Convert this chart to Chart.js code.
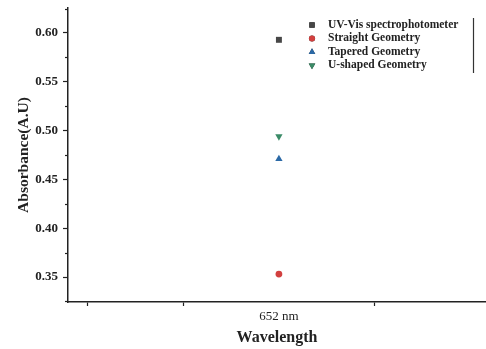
<!DOCTYPE html>
<html>
<head>
<meta charset="utf-8">
<script src="https://cdn.jsdelivr.net/npm/chart.js@4.4.0/dist/chart.umd.min.js"></script>
<style>
  html, body { margin: 0; padding: 0; background: #fff; }
  canvas { display: block; }
</style>
</head>
<body>
<canvas id="chartAbs" width="486" height="349"></canvas>
<script>
const wavelength = 652;
const seriesNames = ['UV-Vis spectrophotometer', 'Straight Geometry', 'Tapered Geometry', 'U-shaped Geometry'];
const absorbance = [0.593, 0.353, 0.471, 0.494];
const seriesColors = ['#474747', '#d2403f', '#2b69a6', '#3a8b67'];
const seriesStyles = ['rect', 'circle', 'triangle', 'triangle'];
const seriesRotation = [0, 0, 0, 180];
const yTicks = [0.35, 0.40, 0.45, 0.50, 0.55, 0.60];
const yMinorTicks = [0.325, 0.375, 0.425, 0.475, 0.525, 0.575, 0.625];
const xTicks = [650, 651, 652, 653];

const serif = "'Liberation Serif', 'DejaVu Serif', serif";

// minor ticks on the y axis and the legend in the upper right
const extras = {
  id: 'extras',
  afterDraw(chart) {
    const ctx = chart.ctx;
    const y = chart.scales.y;
    ctx.save();
    ctx.strokeStyle = '#222';
    ctx.lineWidth = 1.2;
    yMinorTicks.forEach(v => {
      const py = Math.round(y.getPixelForValue(v)) + 0.5;
      ctx.beginPath();
      ctx.moveTo(y.right - 3, py);
      ctx.lineTo(y.right, py);
      ctx.stroke();
    });

    const lx = 312, tx = 328, top = 25, step = 13.5;
    ctx.font = 'bold 11.5px ' + serif;
    ctx.textBaseline = 'middle';
    chart.data.datasets.forEach((ds, i) => {
      const py = top + i * step;
      Chart.helpers.drawPoint(ctx, {
        pointStyle: ds.pointStyle,
        radius: ds.pointRadius * 0.9,
        rotation: ds.rotation,
        borderWidth: 0
      }, lx, py);
      ctx.fillStyle = ds.backgroundColor;
      ctx.fill();
      ctx.fillStyle = '#222';
      ctx.fillText(ds.label, tx, py);
    });
    ctx.strokeStyle = '#333';
    ctx.lineWidth = 1.2;
    ctx.beginPath();
    ctx.moveTo(473.5, 18);
    ctx.lineTo(473.5, 73);
    ctx.stroke();
    ctx.restore();
  }
};

new Chart(document.getElementById('chartAbs'), {
  type: 'scatter',
  data: {
    datasets: seriesNames.map((name, i) => ({
      label: name,
      data: [{ x: wavelength, y: absorbance[i] }],
      backgroundColor: seriesColors[i],
      borderColor: seriesColors[i],
      borderWidth: 0,
      pointStyle: seriesStyles[i],
      rotation: seriesRotation[i],
      pointRadius: seriesStyles[i] === 'circle' ? 3.4 : 4.2
    }))
  },
  options: {
    responsive: false,
    animation: false,
    layout: { autoPadding: false, padding: { top: 8, right: 0, left: 0, bottom: 0 } },
    plugins: {
      legend: { display: false },
      tooltip: { enabled: false }
    },
    scales: {
      x: {
        type: 'linear',
        min: 649.8,
        max: 654.16,
        afterBuildTicks: s => { s.ticks = xTicks.map(v => ({ value: v })); },
        afterFit: s => { s.height = 47; s.paddingLeft = 0; s.paddingRight = 0; },
        border: { color: '#222', width: 1.5 },
        grid: {
          drawOnChartArea: false,
          tickLength: 4,
          tickWidth: 1.2,
          tickColor: c => (c.tick && c.tick.value === wavelength) ? 'rgba(0,0,0,0)' : '#222'
        },
        ticks: {
          padding: 3,
          maxRotation: 0,
          autoSkip: false,
          color: '#222',
          font: { family: serif, size: 13 },
          callback: v => v === wavelength ? wavelength + ' nm' : ''
        },
        title: {
          display: true,
          text: 'Wavelength',
          color: '#222',
          font: { family: serif, size: 16, weight: 'bold' },
          padding: { top: 0, bottom: 1.5 }
        }
      },
      y: {
        min: 0.3244,
        max: 0.6256,
        afterBuildTicks: s => { s.ticks = yTicks.map(v => ({ value: v })); },
        afterFit: s => { s.width = 68; s.paddingTop = 0; s.paddingBottom = 0; },
        border: { color: '#222', width: 1.5 },
        grid: {
          drawOnChartArea: false,
          tickLength: 5,
          tickWidth: 1.2,
          tickColor: '#222'
        },
        ticks: {
          padding: 5,
          color: '#222',
          font: { family: serif, size: 13, weight: 'bold' },
          callback: v => v.toFixed(2)
        },
        title: {
          display: true,
          text: 'Absorbance(A.U)',
          color: '#222',
          font: { family: serif, size: 15.5, weight: 'bold' },
          padding: { top: 14.5, bottom: 0 }
        }
      }
    }
  },
  plugins: [extras]
});
</script>
</body>
</html>
